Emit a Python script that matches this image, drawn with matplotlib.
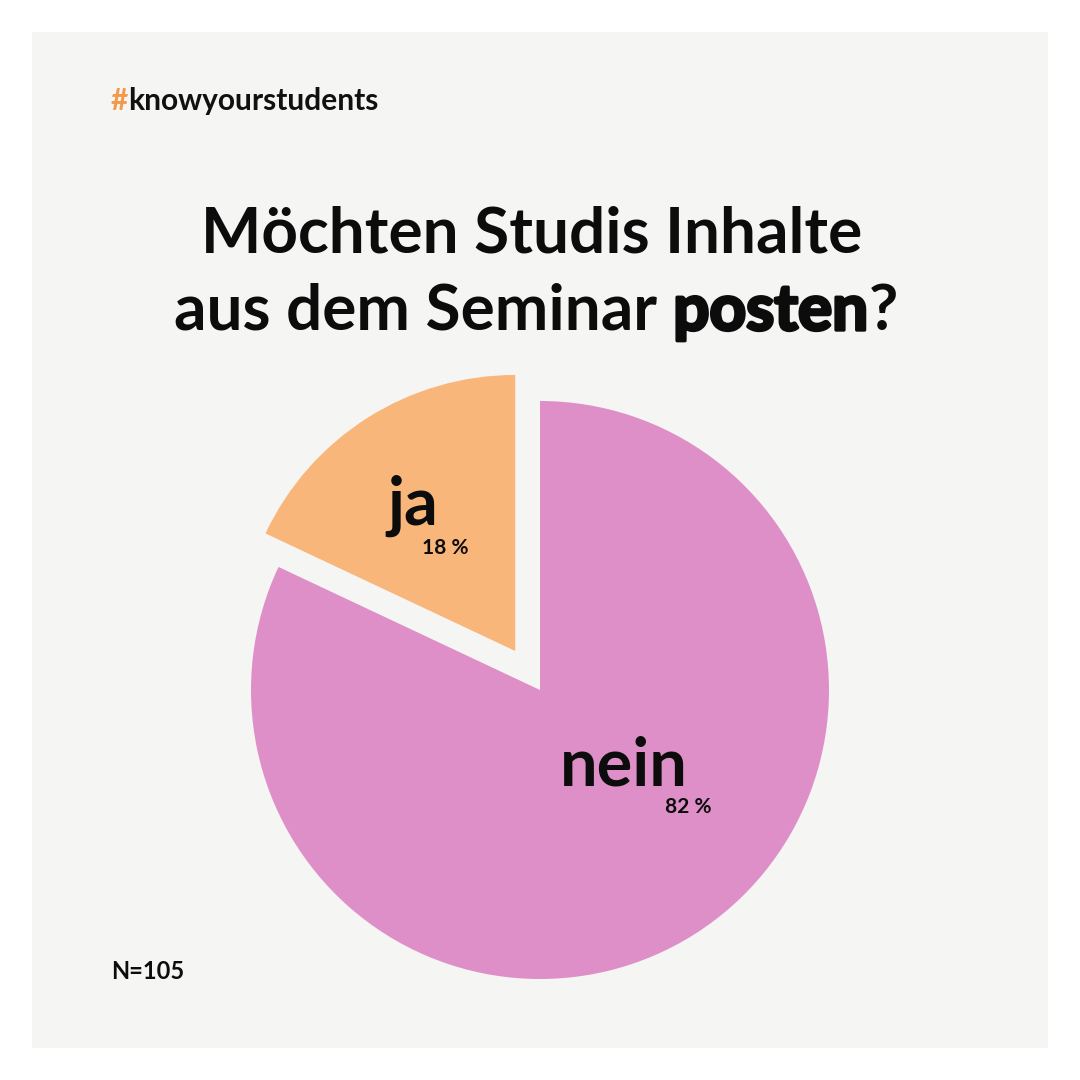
import os
import matplotlib
matplotlib.use("Agg")
import matplotlib.pyplot as plt
from matplotlib.patches import Rectangle
from matplotlib import font_manager as fm
import matplotlib.patheffects as pe

# ---- data ----
categories = ["ja", "nein"]
shares = [18, 82]
pct_labels = ["18 %", "82 %"]
colors = ["#f9b67a", "#df8fc8"]
hashtag = "#knowyourstudents"
title_line1 = "Möchten Studis Inhalte"
title_line2_parts = ["aus dem Seminar ", "posten", "?"]
n_label = "N=105"

INK = "#0c0c0c"


def lato_file(tag):
    best = None
    for f in fm.fontManager.ttflist:
        base = os.path.basename(f.fname)
        if f.name == "Lato" and f.style == "normal":
            stem = os.path.splitext(base)[0].lower()
            if stem == "lato-" + tag.lower():
                return f.fname
            if best is None and stem.endswith(tag.lower()) and "semi" not in stem:
                best = f.fname
    return best


def fp(tag, size):
    path = lato_file(tag)
    if path:
        return fm.FontProperties(fname=path, size=size)
    return fm.FontProperties(family="Lato", weight="bold", size=size)


W = H = 1080
fig = plt.figure(figsize=(10.8, 10.8), dpi=100)
fig.patch.set_facecolor("white")


def fx(px):
    return px / W


def fy(py):
    return 1 - py / H


# background panel
fig.patches.append(Rectangle((fx(32), fy(1048)), fx(1016), 1016 / H,
                             transform=fig.transFigure, facecolor="#f5f5f3",
                             edgecolor="none", zorder=-5))

# hashtag
t1 = fig.text(fx(111), fy(110), "#", color="#f29a4a",
              fontproperties=fp("Bold", 21.5), va="baseline", ha="left")
fig.canvas.draw()
r = fig.canvas.get_renderer()
bb = t1.get_window_extent(r)
fig.text(bb.x1 / W, fy(110), hashtag[1:], color="#111111",
         fontproperties=fp("Bold", 21.5), va="baseline", ha="left")

# title line 1
fig.text(0.5 - 8 / W, fy(252), title_line1, fontproperties=fp("Bold", 46),
         color=INK, ha="center", va="baseline")

# title line 2 with mixed weights ("posten" extra heavy)
heavy = [pe.withStroke(linewidth=2.4, foreground=INK)]
effects = [None, heavy, None]
texts = []
for part, eff in zip(title_line2_parts, effects):
    t = fig.text(0, fy(330), part, fontproperties=fp("Bold", 46),
                 color=INK, ha="left", va="baseline")
    if eff:
        t.set_path_effects(eff)
    texts.append(t)
fig.canvas.draw()
widths = [t.get_window_extent(r).width for t in texts]
widths[1] += 2
total = sum(widths)
x = (536 - total / 2)
for i, (t, wd) in enumerate(zip(texts, widths)):
    t.set_x((x + (1 if i == 1 else 0)) / W)
    x += wd

# pie
cx, cy, R = 540, 690, 289
half = 340
ax = fig.add_axes([fx(cx - half), fy(cy + half), 2 * half / W, 2 * half / H])
ax.set_zorder(2)
ax.set_facecolor("none")
wedges, _ = ax.pie(shares, colors=colors, startangle=90, counterclock=True,
                   explode=[0.16, 0], radius=1.0,
                   wedgeprops=dict(linewidth=0))
wedges[0].set_radius(0.955)
lim = half / R
ax.set_xlim(-lim, lim)
ax.set_ylim(-lim, lim)
ax.set_aspect("equal")
ax.axis("off")


def dx(px):
    return (px - cx) / R


def dy(py):
    return (cy - py) / R


ax.text(dx(413), dy(525), categories[0], fontproperties=fp("Bold", 48),
        color=INK, ha="center", va="baseline")
ax.text(dx(445), dy(554), pct_labels[0], fontproperties=fp("Bold", 15),
        color=INK, ha="center", va="baseline")
ax.text(dx(624), dy(785), categories[1], fontproperties=fp("Bold", 48),
        color=INK, ha="center", va="baseline")
ax.text(dx(688), dy(813), pct_labels[1], fontproperties=fp("Bold", 15),
        color=INK, ha="center", va="baseline")

fig.text(fx(111), fy(979), n_label, fontproperties=fp("Bold", 17),
         color=INK, ha="left", va="baseline")

fig.savefig("out.png", dpi=100, facecolor="white")
